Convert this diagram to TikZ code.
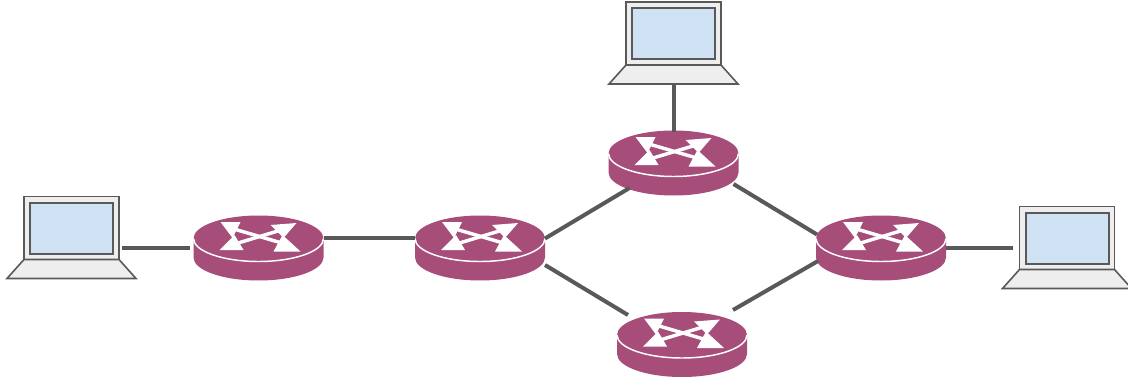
\documentclass[tikz,border=0pt]{standalone}
\usetikzlibrary{calc}
\definecolor{routerc}{HTML}{A64D79}
\definecolor{linec}{HTML}{595959}
\definecolor{screenc}{HTML}{CFE2F3}
\definecolor{bodyc}{HTML}{EEEEEE}
\tikzset{
  x=0.75pt,y=-0.75pt,
  link/.style={draw=linec,line width=3pt},
  routerbox/.style={minimum width=97.5pt,minimum height=48.75pt,inner sep=0pt,outer sep=0pt},
  laptopbox/.style={minimum width=97.5pt,minimum height=61.5pt,inner sep=0pt,outer sep=0pt},
  router/.pic={
    \fill[routerc] (-65,-9.5) -- (-65,9.5) arc[start angle=180,end angle=0,x radius=65,y radius=23] -- (65,-9.5) arc[start angle=0,end angle=-180,x radius=65,y radius=23] -- cycle;
    \draw[white,line width=1.1pt] (-65,-9.5) arc[start angle=180,end angle=0,x radius=65,y radius=23];
    \fill[white] (-38,-26) -- (-18,-26) -- (-26,-10) -- cycle;
    \fill[white] (-39,2) -- (-15,2) -- (-24,-13) -- cycle;
    \fill[white] (38,-25) -- (12,-23) -- (25,-10) -- cycle;
    \fill[white] (42,3.5) -- (15,3.5) -- (24,-13) -- cycle;
    \draw[white,line width=2.6pt] (-28,-20) -- (30,-3);
    \draw[white,line width=2.6pt] (26,-19) -- (-27,-3);
  },
  laptop/.pic={
    \draw[linec,fill=bodyc,line width=1.2pt] (-47.5,-41) rectangle (47.5,22);
    \draw[linec,fill=screenc,line width=1.5pt] (-41.5,-34.5) rectangle (41.5,16);
    \draw[linec,fill=bodyc,line width=1.2pt] (-47.5,22) -- (47.5,22) -- (64.5,41) -- (-64.5,41) -- cycle;
  }
}
\begin{document}
\begin{tikzpicture}
\useasboundingbox (0,0) rectangle (1128,378);
\node[routerbox] (r1) at (258.5,248) {};
\node[routerbox] (r2) at (480,248) {};
\node[routerbox] (r3) at (673.5,163) {};
\node[routerbox] (r4) at (682,344.5) {};
\node[routerbox] (r5) at (881,248) {};
\node[laptopbox] (l1) at (71.5,237.5) {};
\node[laptopbox] (l2) at (673.5,43) {};
\node[laptopbox] (l3) at (1067,247.5) {};
\foreach \n in {r1,r2,r3,r4,r5} \pic at (\n) {router};
\foreach \n in {l1,l2,l3} \pic at (\n) {laptop};
\draw[link] ([shift={(-14.5,10)}]l1.east) -- ([shift={(-3.5,-0.5)}]r1.west);
\draw[link] ([shift={(0,-10)}]r1.east) -- ([shift={(0,-10)}]r2.west);
\draw[link] (l2.south) -- ([shift={(0,1)}]r3.north);
\draw[link] ($(r2.center)+(65,-9.5)$) -- ($(r3.center)+(-44,25)$);
\draw[link] ($(r3.center)+(60,21)$) -- ($(r5.center)+(-64,-13.5)$);
\draw[link] ($(r2.center)+(65,17)$) -- ($(r4.center)+(-54,-29.5)$);
\draw[link] ($(r4.center)+(51,-34.5)$) -- ($(r5.center)+(-63,13)$);
\draw[link] ([shift={(0,-0.5)}]r5.east) -- ([shift={(11,0)}]l3.west);
\end{tikzpicture}
\end{document}
